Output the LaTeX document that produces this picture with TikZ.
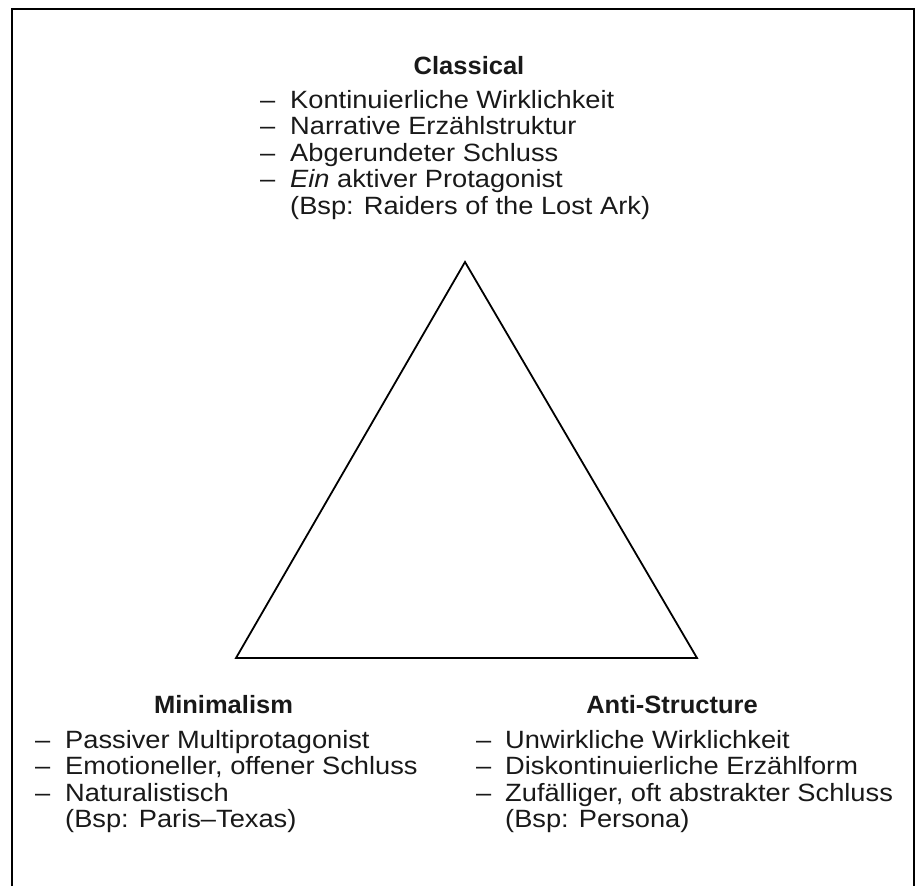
\documentclass[tikz,border=0pt]{standalone}
\usepackage{fontspec}
\setmainfont{Liberation Sans}
\newfontfamily\regfont[FakeStretch=1.09]{Liberation Sans}
\newfontfamily\headfont[FakeStretch=1.02]{Liberation Sans}
\begin{document}
\begin{tikzpicture}[x=1pt,y=-1pt,
  line/.style={draw=black,line width=1.8pt,line join=miter},
  head/.style={inner sep=0pt,anchor=base,font=\headfont\fontsize{25}{30}\selectfont\bfseries,text=black!90},
  item/.style={inner sep=0pt,anchor=base west,font=\regfont\fontsize{25}{30}\selectfont,text=black!90},
  dashmark/.style={inner sep=0pt,anchor=base west,font=\regfont\fontsize{25}{30}\selectfont,text=black!90}]
\useasboundingbox (0,0) rectangle (917,886);
% frame (open at the bottom)
\coordinate (fbl) at (12,886);
\coordinate (ftl) at (12,9);
\coordinate (ftr) at (914,9);
\coordinate (fbr) at (914,886);
\draw[line] (fbl) -- (ftl) -- (ftr) -- (fbr);
% triangle
\coordinate (apex) at (465,262);
\coordinate (bl) at (236,658);
\coordinate (br) at (697,658);
\draw[line] (apex) -- (br) -- (bl) -- cycle;
% Classical
\node[head] (hc) at (469,74) {Classical};
\node[dashmark] (dc1) at (260,108) {–};
\node[item] (c1) at (290,108) {Kontinuierliche Wirklichkeit};
\node[dashmark] (dc2) at (260,134.5) {–};
\node[item] (c2) at (290,134.5) {Narrative Erzählstruktur};
\node[dashmark] (dc3) at (260,161) {–};
\node[item] (c3) at (290,161) {Abgerundeter Schluss};
\node[dashmark] (dc4) at (260,187.5) {–};
\node[item] (c4) at (290,187.5) {\itshape Ein\upshape{} aktiver Protagonist};
\node[item] (c5) at (290,214) {(Bsp: Raiders of the Lost Ark)};
% Minimalism
\node[head] (hm) at (223.5,713) {Minimalism};
\node[dashmark] (dm1) at (35,748) {–};
\node[item] (m1) at (65,748) {Passiver Multiprotagonist};
\node[dashmark] (dm2) at (35,774.5) {–};
\node[item] (m2) at (65,774.5) {Emotioneller, offener Schluss};
\node[dashmark] (dm3) at (35,801) {–};
\node[item] (m3) at (65,801) {Naturalistisch};
\node[item] (m4) at (65,827.5) {(Bsp: Paris–Texas)};
% Anti-Structure
\node[head] (ha) at (672,713) {Anti-Structure};
\node[dashmark] (da1) at (476,748) {–};
\node[item] (a1) at (505,748) {Unwirkliche Wirklichkeit};
\node[dashmark] (da2) at (476,774.5) {–};
\node[item] (a2) at (505,774.5) {Diskontinuierliche Erzählform};
\node[dashmark] (da3) at (476,801) {–};
\node[item] (a3) at (505,801) {Zufälliger, oft abstrakter Schluss};
\node[item] (a4) at (505,827.5) {(Bsp: Persona)};
\end{tikzpicture}
\end{document}
